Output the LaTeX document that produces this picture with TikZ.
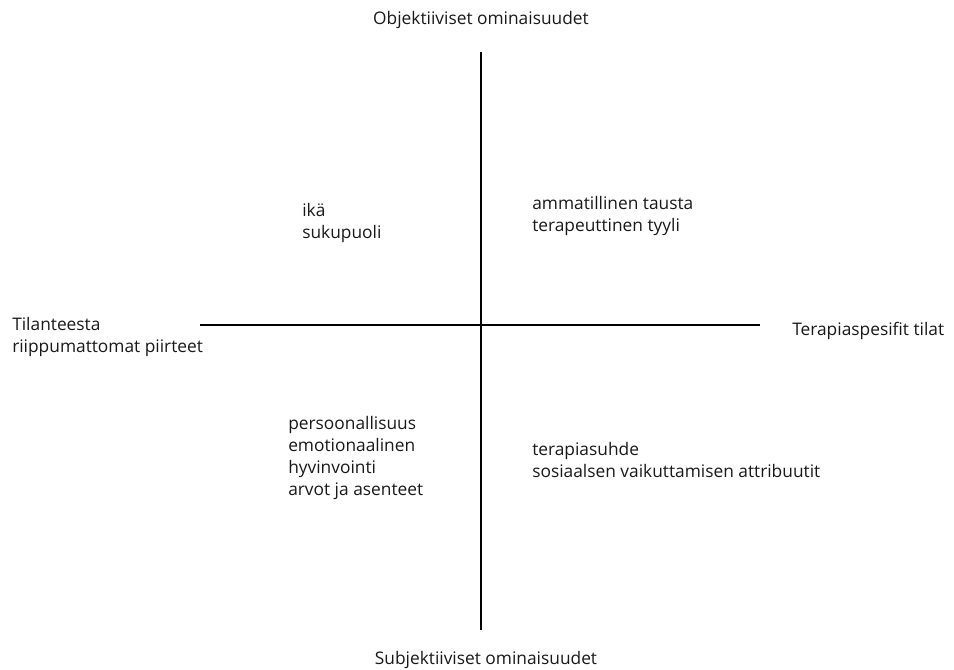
\documentclass[tikz,border=0pt]{standalone}
\usepackage{fontspec}
\setmainfont{Open Sans}
\usepackage{tikz}

\tikzset{
	lbl/.style = {inner sep = 0pt, anchor = west, align = left, text = black!90,
		font = \fontsize{13}{16.5}\selectfont},
	axis/.style = {line width = 0.9pt}
}

\begin{document}
\begin{tikzpicture}[x = 0.75pt, y = -0.75pt]
	\useasboundingbox (0,0) rectangle (954,669);
	% axes
	\coordinate (top) at (481,52);
	\coordinate (bottom) at (481,630);
	\coordinate (left) at (200,325);
	\coordinate (right) at (760,325);
	\draw [axis] (top) -- (bottom);
	\draw [axis] (left) -- (right);
	% axis labels
	\node [lbl, anchor = center] (objektiiviset) at (481,20) {Objektiiviset ominaisuudet};
	\node [lbl, anchor = center] (subjektiiviset) at (486,660) {Subjektiiviset ominaisuudet};
	\node [lbl] (tilanteesta) at (12,337) {Tilanteesta\\riippumattomat piirteet};
	\node [lbl] (terapiaspesifit) at (792,331) {Terapiaspesifit tilat};
	% quadrants
	\node [lbl] (ika) at (302,223) {ikä\\sukupuoli};
	\node [lbl] (ammatillinen) at (532,216) {ammatillinen tausta\\terapeuttinen tyyli};
	\node [lbl] (persoonallisuus) at (288,458) {persoonallisuus\\emotionaalinen\\hyvinvointi\\arvot ja asenteet};
	\node [lbl] (terapiasuhde) at (532,460) {terapiasuhde\\sosiaalsen vaikuttamisen attribuutit};
\end{tikzpicture}
\end{document}
